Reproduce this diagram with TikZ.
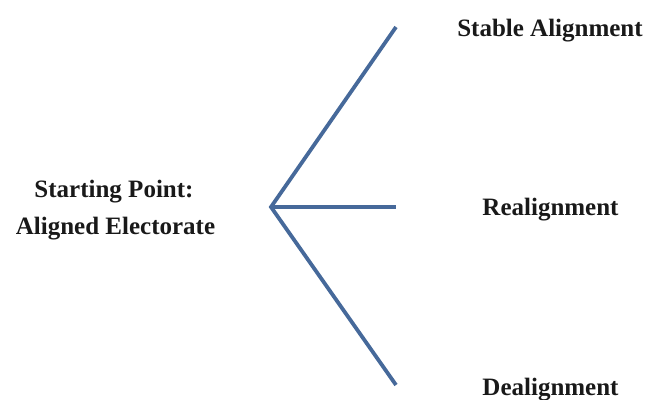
\documentclass[tikz,border=0pt]{standalone}
\usepackage{fontspec}
\setmainfont{Liberation Serif}
\definecolor{branch}{HTML}{46699A}
\begin{document}
\begin{tikzpicture}[x=1pt,y=-1pt,
  lbl/.style={font=\bfseries\fontsize{25}{36}\selectfont, text=black!90, inner sep=0pt, align=center, anchor=base},
  br/.style={draw=branch, line width=3.8pt}]
\useasboundingbox (0,0) rectangle (648,399);
\coordinate (o) at (271,207);
\coordinate (t) at (396,27);
\coordinate (m) at (396,207);
\coordinate (b) at (396,385);
\draw[br, line join=miter] (t) -- (o) -- (b);
\draw[br] (o) -- (m);
\node[lbl] (start1) at (114,197) {Starting Point:};
\node[lbl] (start2) at (115.5,234) {Aligned Electorate};
\node[lbl] (stable) at (550,36) {Stable Alignment};
\node[lbl] (real) at (550.5,215) {Realignment};
\node[lbl] (deal) at (550.5,395) {Dealignment};
\end{tikzpicture}
\end{document}
